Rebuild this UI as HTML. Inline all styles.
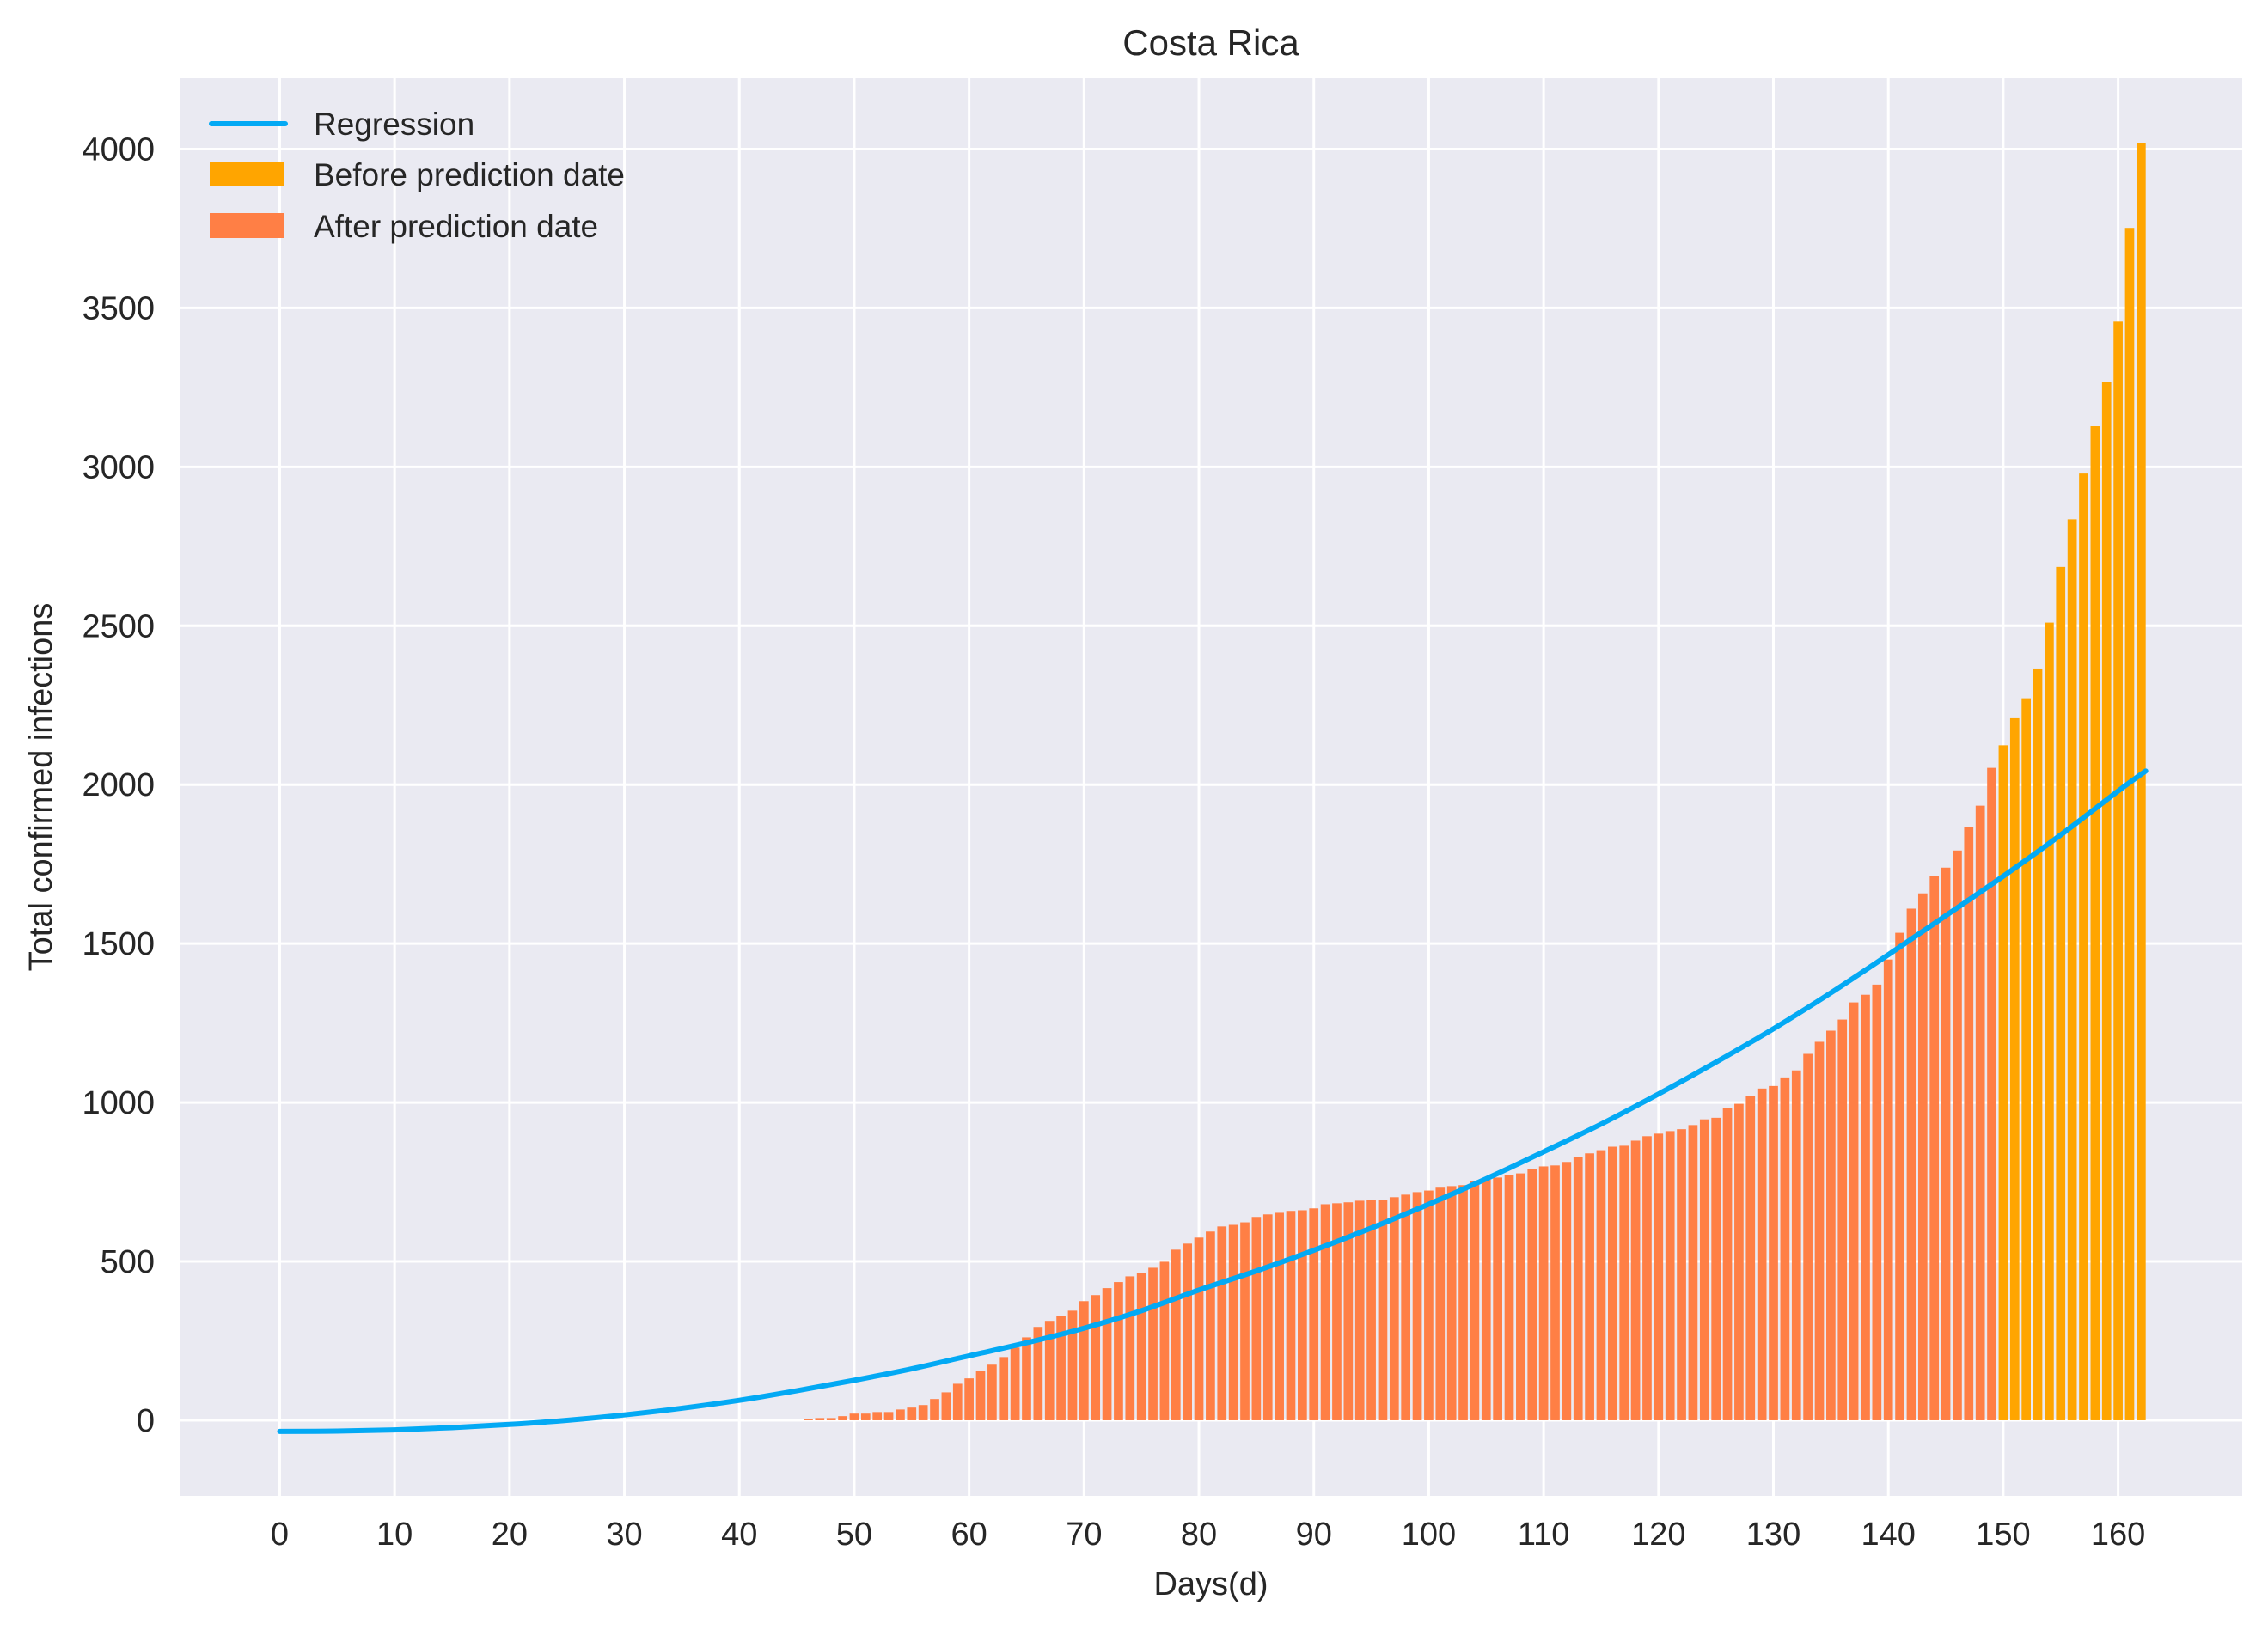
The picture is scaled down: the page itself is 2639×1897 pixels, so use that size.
<!DOCTYPE html>
<html><head><meta charset="utf-8"><style>
html,body{margin:0;padding:0;background:#fff;}
svg{display:block;font-family:"Liberation Sans",Arial,sans-serif;}
</style></head><body>
<svg id="chart" width="2639" height="1897" viewBox="0 0 2639 1897">
<rect x="209" y="91" width="2400" height="1650" fill="#eaeaf2"/>
<g id="grid"></g>
<g id="bars"></g>
<g id="line"></g>
<g id="ticks" font-size="38" fill="#262626"></g>
<text x="1409" y="64" font-size="42" text-anchor="middle" fill="#262626">Costa Rica</text>
<text x="1409" y="1856" font-size="38" text-anchor="middle" fill="#262626">Days(d)</text>
<text transform="translate(60,916) rotate(-90)" font-size="38" text-anchor="middle" fill="#262626">Total confirmed infections</text>
<g font-size="37" fill="#262626">
<line x1="246" y1="144" x2="332" y2="144" stroke="#03a9f4" stroke-width="6" stroke-linecap="round"/>
<text x="365" y="157">Regression</text>
<rect x="244" y="188" width="86" height="29" fill="#ffa500"/>
<text x="365" y="216">Before prediction date</text>
<rect x="244" y="248" width="86" height="29" fill="#ff7f45"/>
<text x="365" y="276">After prediction date</text>
</g>
</svg>
<script>
const barStartDay = 46;
const afterValues = [5,7,7,13,21,21,26,26,34,40,48,67,88,115,132,156,175,199,229,261,294,313,329,345,375,394,416,435,453,464,480,499,537,556,575,594,610,615,623,640,648,653,659,661,667,680,683,686,691,694,694,702,710,718,723,732,737,740,753,757,764,772,777,791,799,802,813,829,840,850,861,864,880,894,902,910,916,929,947,952,982,996,1021,1044,1052,1079,1101,1153,1191,1226,1261,1315,1339,1371,1450,1534,1610,1658,1712,1739,1793,1866,1934,2053];
const beforeStartDay = 150;
const beforeValues = [2124,2209,2272,2363,2510,2685,2835,2979,3128,3268,3457,3752,4019];
const regDays = [0,5,10,15,20,25,30,35,40,45,50,55,60,65,70,75,80,85,90,95,100,105,110,115,120,125,130,135,140,145,150,155,160,162.4];
const regValues = [-35,-34,-30,-23,-13,0,17,38,63,93,126,162,203,244,290,345,410,470,535,605,680,760,845,932,1027,1127,1232,1345,1465,1588,1712,1842,1980,2043];
const xTicks = [0,10,20,30,40,50,60,70,80,90,100,110,120,130,140,150,160];
const yTicks = [0,500,1000,1500,2000,2500,3000,3500,4000];

const NS = "http://www.w3.org/2000/svg";
const L=209,R=2609,T=91,B=1741;
const xMin=-8.71,xMax=170.8,yMin=-238,yMax=4223;
function xs(d){return L+(d-xMin)/(xMax-xMin)*(R-L);}
function ys(v){return B-(v-yMin)/(yMax-yMin)*(B-T);}
function mk(tag,attrs,parent){const e=document.createElementNS(NS,tag);for(const k in attrs)e.setAttribute(k,attrs[k]);parent.appendChild(e);return e;}

const grid=document.getElementById('grid');
xTicks.forEach(t=>{
  const l=mk('line',{x1:xs(t),x2:xs(t),y1:T,y2:B,stroke:'#fff','stroke-width':3},grid);
  
  
});
yTicks.forEach(t=>{
  const l=mk('line',{x1:L,x2:R,y1:ys(t),y2:ys(t),stroke:'#fff','stroke-width':3},grid);
  
  
});

const ticks=document.getElementById('ticks');
xTicks.forEach(t=>{
  const e=mk('text',{x:xs(t),y:1798,'text-anchor':'middle'},ticks);
  e.textContent=t;
  
  
});
yTicks.forEach(t=>{
  const e=mk('text',{x:180,y:ys(t)+13,'text-anchor':'end'},ticks);
  e.textContent=t;
  
  
});

const bars=document.getElementById('bars');
const bw=0.8;
function drawBar(d,v,color,name){
  const x0=xs(d-bw/2),x1=xs(d+bw/2);
  const y0=ys(Math.max(v,0)),y1=ys(0);
  const r=mk('rect',{x:x0,y:y0,width:x1-x0,height:y1-y0,fill:color},bars);
  
  
}
afterValues.forEach((v,i)=>drawBar(barStartDay+i,v,'#ff7f45','bar-after-prediction'));
beforeValues.forEach((v,i)=>drawBar(beforeStartDay+i,v,'#ffa500','bar-before-prediction'));

const lineG=document.getElementById('line');
const pts=regDays.map((d,i)=>[xs(d),ys(regValues[i])]);
let p='M'+pts[0][0]+','+pts[0][1];
for(let i=0;i<pts.length-1;i++){
  const p0=pts[Math.max(i-1,0)],p1=pts[i],p2=pts[i+1],p3=pts[Math.min(i+2,pts.length-1)];
  const c1=[p1[0]+(p2[0]-p0[0])/6,p1[1]+(p2[1]-p0[1])/6];
  const c2=[p2[0]-(p3[0]-p1[0])/6,p2[1]-(p3[1]-p1[1])/6];
  p+=' C'+c1[0]+','+c1[1]+' '+c2[0]+','+c2[1]+' '+p2[0]+','+p2[1];
}
const path=mk('path',{d:p,fill:'none',stroke:'#03a9f4','stroke-width':6,'stroke-linecap':'round'},lineG);


</script>
</body></html>
